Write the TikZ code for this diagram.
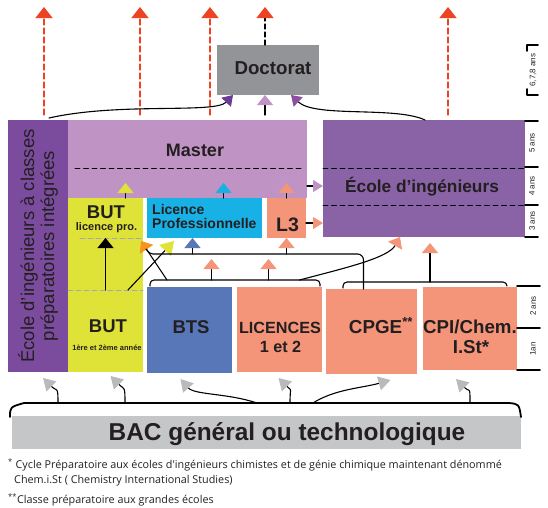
\documentclass[tikz,border=0pt]{standalone}
\usepackage{fontspec}
\setmainfont{Liberation Sans}
\newfontfamily\notefont{Open Sans}
\usetikzlibrary{arrows.meta}
\definecolor{ecipurple}{HTML}{7B4B9E}
\definecolor{ecolepurple}{HTML}{8A62A6}
\definecolor{masterlav}{HTML}{BF94C4}
\definecolor{butyellow}{HTML}{DFE337}
\definecolor{lpcyan}{HTML}{17B1E6}
\definecolor{salmon}{HTML}{F4957A}
\definecolor{btsblue}{HTML}{5777B8}
\definecolor{docgray}{HTML}{939497}
\definecolor{bacgray}{HTML}{C5C6C7}
\definecolor{arrred}{HTML}{EE4323}
\definecolor{arrorange}{HTML}{F7941E}
\definecolor{arrgray}{HTML}{B9BABB}
\definecolor{textdark}{HTML}{231F20}
\definecolor{tipdark}{HTML}{6A3A96}
\definecolor{tippurple}{HTML}{8D4FA1}
\definecolor{dashgray}{HTML}{A4A7B4}

\begin{document}
\begin{tikzpicture}[line cap=round,line join=round,x=1pt,y=-1pt,
  cell/.style={inner sep=0pt,outer sep=0pt,anchor=north west},
  lbl/.style={text=textdark,font=\bfseries\fontsize{#1}{#1}\selectfont,inner sep=0pt,anchor=base},
  lnk/.style={line width=1.1pt,black},
  arrowto/.style={-{Triangle[width=16pt,length=10pt,color=#1]}},
  reddash/.style={arrred,line width=1.3pt,dash pattern=on 6pt off 3pt,-{Triangle[width=17pt,length=11pt,color=arrred]}},
  grayarr/.style={lnk,-{Triangle[width=14pt,length=12pt,color=arrgray]}},
  scaletick/.style={line width=1.6pt,black},
  ans/.style={rotate=90,font=\fontsize{8}{8}\selectfont,inner sep=0pt,text=textdark},
  note/.style={anchor=base west,inner sep=0pt,text=textdark,font=\notefont\fontsize{10.8}{12}\selectfont}]
\useasboundingbox (0,0) rectangle (548,507);
\node[cell,fill=ecipurple,minimum width=60pt,minimum height=252pt] (eci) at (8,120) {};
\node[cell,fill=masterlav,minimum width=239pt,minimum height=78pt] (master) at (68,120) {};
\node[cell,fill=ecolepurple,minimum width=202pt,minimum height=117pt] (ecole) at (323,120) {};
\node[cell,fill=docgray,minimum width=102pt,minimum height=50pt] (doct) at (217,45) {};
\node[cell,fill=butyellow,minimum width=75pt,minimum height=174pt] (but) at (68,198) {};
\node[cell,fill=lpcyan,minimum width=115pt,minimum height=40pt] (lp) at (147,198) {};
\node[cell,fill=salmon,minimum width=39pt,minimum height=40pt] (lthree) at (267,198) {};
\node[cell,fill=btsblue,minimum width=85pt,minimum height=86pt] (bts) at (147,287) {};
\node[cell,fill=salmon,minimum width=85pt,minimum height=85pt] (lic) at (237,287) {};
\node[cell,fill=salmon,minimum width=91pt,minimum height=85pt] (cpge) at (326,289) {};
\node[cell,fill=salmon,minimum width=94pt,minimum height=83pt] (cpi) at (423,287) {};
\node[cell,fill=bacgray,minimum width=509pt,minimum height=33pt] (bac) at (12,416) {};

\node[rotate=90,align=center,text=textdark,inner sep=0pt,font=\fontsize{18.5}{20}\selectfont] (ecitxt) at (eci.center) {École d’ingénieurs à classes\\préparatoires intégrées};
\node[lbl=18] (mastertxt) at (195,156) {Master};
\node[lbl=17.3] (ecoletxt) at (422,192) {École d’ingénieurs};
\node[lbl=18.7] (docttxt) at (273,74) {Doctorat};
\node[lbl=18.5] (butup) at (106,218) {BUT};
\node[lbl=11] (butlp) at (106.5,230) {licence pro.};
\node[lbl=14,anchor=base west] (lpone) at (152,214) {Licence};
\node[lbl=14,anchor=base west] (lptwo) at (152,228) {Professionnelle};
\node[lbl=19.5] (lthreetxt) at (287.5,231) {L3};
\node[lbl=18.5] (butdown) at (108,332) {BUT};
\node[lbl=7.5] (butyears) at (107,350) {1ère et 2ème année};
\node[lbl=18.5] (btstxt) at (191,333) {BTS};
\node[lbl=16.2] (licone) at (280,333) {LICENCES};
\node[lbl=16.2] (lictwo) at (280.5,352) {1 et 2};
\node[lbl=18.8] (cpgetxt) at (381,333) {CPGE\textsuperscript{**}};
\node[lbl=18.7] (cpione) at (470,333) {CPI/Chem.};
\node[lbl=18.7] (cpitwo) at (471,353) {I.St*};
\node[lbl=24.4] (bactxt) at (287,440) {BAC général ou technologique};

\draw[black,line width=0.9pt,dash pattern=on 5pt off 3.5pt] (75,168) -- (302,168);
\draw[black,line width=0.9pt,dash pattern=on 5pt off 3.5pt] (323,168) -- (525,168);
\draw[black,line width=0.9pt,dash pattern=on 5pt off 3.5pt] (323,205) -- (525,205);
\draw[dashgray,line width=1pt,dash pattern=on 5pt off 3pt] (80,238) -- (141,238);
\draw[dashgray,line width=1pt,dash pattern=on 5pt off 3pt] (68,290) -- (143,290);

\foreach \n/\dx in {eci/36,master/72,master/142,ecole/125}
\draw[reddash] ([xshift=\dx pt,yshift=5pt]\n.north west) -- ++(0,-108);
\draw[lnk,dash pattern=on 5pt off 3pt,-{Triangle[width=17pt,length=11pt,color=arrred]}] ([xshift=-3pt]doct.north) -- ++(0,-38);
\draw[lnk,arrowto=masterlav] ([xshift=-3pt,yshift=-20pt]doct.south) -- ([xshift=-3pt]doct.south);
\draw[lnk,-{Triangle[width=13pt,length=10pt,color=tipdark]}] ([xshift=41pt,yshift=2pt]eci.north west) .. controls (120,102) and (215,114) .. ([xshift=16pt]doct.south west);
\draw[lnk,-{Triangle[width=13pt,length=10pt,color=tippurple]}] ([xshift=102pt]ecole.north west) .. controls (395,106) and (315,118) .. ([xshift=74pt]doct.south west);

\draw[lnk,-{Triangle[width=12pt,length=10pt,color=masterlav]}] ([yshift=-27pt]master.east) -- ([yshift=-27pt]master.east -| ecole.west);
\draw[lnk,-{Triangle[width=12pt,length=10pt,color=salmon]}] ([yshift=-5pt]lthree.east) -- ([yshift=-5pt]lthree.east -| ecole.west);
\draw[lnk,arrowto=butyellow] ([xshift=20pt]but.north) -- ++(0,-15);
\draw[lnk,arrowto=lpcyan] ([xshift=19pt]lp.north) -- ++(0,-15);
\draw[lnk,arrowto=salmon] (lthree.north) -- ++(0,-15);

\draw[lnk,arrowto=black] ([yshift=-92pt]but.north) -- ([yshift=-40pt]but.north);
\draw[lnk,-{Triangle[width=16pt,length=13pt,color=butyellow]}] ([xshift=60pt,yshift=-92pt]but.north west) -- ([xshift=27pt,yshift=-3pt]lp.south west);
\draw[lnk,arrowto=arrorange] ([xshift=20pt,yshift=7pt]bts.north west) -- ([xshift=-6pt,yshift=-3pt]lp.south west);
\draw[lnk,rounded corners=6pt] ([xshift=-8pt]cpge.north) |- ([xshift=12pt,yshift=-16pt]lp.south west) .. controls +(-8,0) and +(3,4) .. ([xshift=-1pt,yshift=-11pt]lp.south west);
\draw[lnk,arrowto=btsblue] ([xshift=-12pt,yshift=-16pt]lp.south) -- ([xshift=-12pt]lp.south);
\draw[lnk,arrowto=salmon] ([yshift=-16pt]lthree.south) -- (lthree.south);

\draw[lnk,rounded corners=4pt] ([xshift=3pt,yshift=1pt]bts.north west) -- ++(0,-6) -| ([xshift=-2pt,yshift=1pt]lic.north east);
\draw[lnk,rounded corners=4pt] ([xshift=17pt,yshift=1pt]cpge.north west) -- ++(0,-6) -| ([xshift=-10pt,yshift=1pt]cpi.north east);
\draw[lnk,arrowto=salmon] ([xshift=22pt,yshift=7pt]bts.north) -- ++(0,-21);
\draw[lnk,arrowto=salmon] ([xshift=-11pt,yshift=7pt]lic.north) -- ++(0,-21);
\draw[lnk,arrowto=salmon] ([xshift=20pt,yshift=7pt]lic.north) .. controls (345,268) and (388,258) .. ([xshift=77pt]ecole.south west);
\draw[lnk,arrowto=salmon] ([xshift=107pt,yshift=-45pt]ecole.south west) -- ++(0,-39);

\draw[lnk,line width=1.8pt] ([xshift=-2pt,yshift=-1pt]bac.north west) .. controls +(0,-10) .. ([xshift=12pt,yshift=13pt]bac.north west) -- ([xshift=-12pt,yshift=13pt]bac.north east) .. controls +(10,1) .. ([yshift=-1pt]bac.north east);
\draw[grayarr] ([xshift=46pt,yshift=13pt]bac.north west) .. controls +(0,-18) and +(14,14) .. ([xshift=5pt,yshift=-6pt]eci.south);
\draw[grayarr] ([xshift=113pt,yshift=13pt]bac.north west) .. controls +(0,-18) and +(14,14) .. ([xshift=5pt,yshift=-4pt]but.south);
\draw[grayarr] ([xshift=245pt,yshift=13pt]bac.north west) .. controls +(-30,-10) and +(14,16) .. ([xshift=-9pt,yshift=-6pt]bts.south);
\draw[grayarr] ([xshift=278pt,yshift=13pt]bac.north west) .. controls +(0,-18) and +(14,14) .. ([xshift=-1pt,yshift=-6pt]lic.south);
\draw[grayarr] ([xshift=301pt,yshift=13pt]bac.north west) .. controls +(22,-14) and +(-28,8) .. ([xshift=19pt,yshift=-6pt]cpge.south);
\draw[grayarr] ([xshift=458pt,yshift=13pt]bac.north west) .. controls +(0,-18) and +(14,14) .. ([xshift=-14pt,yshift=-9pt]cpi.south);

\draw[scaletick] (527,51) -- (527,45) -- (538,45);
\draw[scaletick] (527,89) -- (527,95) -- (538,95);
\node[ans] (sdoct) at (533,70) {6,7,8 ans};
\foreach \y in {121,167,205,237}
\draw[scaletick] (525,\y) -- (538,\y);
\foreach \y/\t in {143/5 ans,186/4 ans,221/3 ans}
\node[ans] (ans\y) at (532,\y) {\t};
\foreach \y in {286,328,370}
\draw[scaletick] (517,\y) -- (540,\y);
\node[ans] (anstwo) at (533,306) {2 ans};
\node[ans] (ansone) at (533,349) {1an};

\node[note] (noteone) at (8,468) {\textsuperscript{*} Cycle Préparatoire aux écoles d\textquotesingle ingénieurs chimistes et de génie chimique maintenant dénommé};
\node[note] (noteonb) at (14,483) {Chem.i.St ( Chemistry International Studies)};
\node[note] (notetwo) at (8,503) {\textsuperscript{**}Classe préparatoire aux grandes écoles};
\end{tikzpicture}
\end{document}
